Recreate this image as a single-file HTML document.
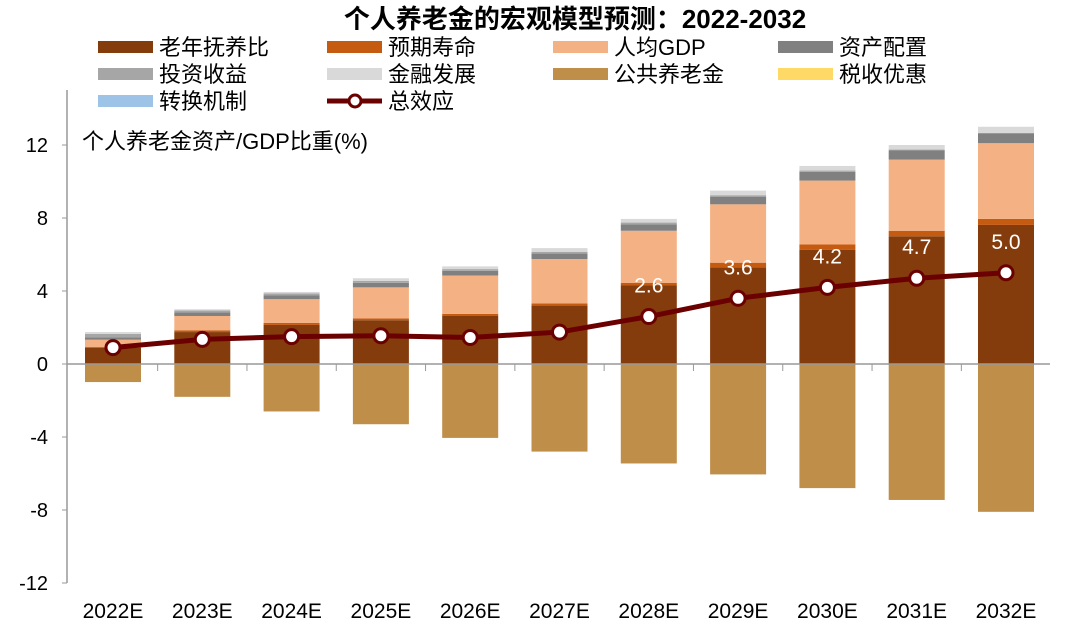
<!DOCTYPE html>
<html><head><meta charset="utf-8"><style>
body{margin:0;background:#fff;}
svg{display:block;font-family:"Liberation Sans","Noto Sans CJK SC",sans-serif;}
</style></head><body>
<svg id="c" width="1080" height="636"></svg>
<script>
const categories=["2022E","2023E","2024E","2025E","2026E","2027E","2028E","2029E","2030E","2031E","2032E"];
const oldAge=[0.88,1.75,2.14,2.4,2.65,3.2,4.3,5.3,6.25,7.0,7.62];
const lifeExp=[0.05,0.1,0.11,0.1,0.1,0.12,0.15,0.25,0.3,0.3,0.33];
const gdpPc=[0.4,0.78,1.3,1.7,2.1,2.43,2.85,3.2,3.5,3.9,4.15];
const assetAlloc=[0.12,0.2,0.22,0.25,0.25,0.3,0.35,0.42,0.48,0.5,0.55];
const invReturn=[0.2,0.1,0.1,0.1,0.1,0.1,0.1,0.08,0.07,0.05,0.0];
const finDev=[0.1,0.07,0.08,0.15,0.15,0.2,0.2,0.25,0.25,0.25,0.35];
const publicPension=[-0.99,-1.8,-2.6,-3.3,-4.05,-4.8,-5.45,-6.05,-6.8,-7.45,-8.1];
const total=[0.9,1.35,1.5,1.55,1.45,1.75,2.6,3.6,4.2,4.7,5.0];
const yTicks=[12,8,4,0,-4,-8,-12];
const NS="http://www.w3.org/2000/svg";
const svg=document.getElementById('c');
function el(t,a,p){const e=document.createElementNS(NS,t);for(const k in a)e.setAttribute(k,a[k]);(p||svg).appendChild(e);return e;}
const y=v=>364-v*18.25;
const x=i=>113+i*89.3;
const bw=56;
let t=el('text',{x:575,y:28,'text-anchor':'middle','font-size':26,'font-weight':'bold',fill:'#000'});t.textContent="个人养老金的宏观模型预测：2022-2032";

const legend=[["老年抚养比","#843C0C"],["预期寿命","#C55A11"],["人均GDP","#F4B183"],["资产配置","#808080"],["投资收益","#A6A6A6"],["金融发展","#D9D9D9"],["公共养老金","#BF8F4A"],["税收优惠","#FFD966"],["转换机制","#9DC3E6"],["总效应",null]];
const lx=[98,327,553,778],ly=[47,74,101];
legend.forEach((d,i)=>{
  const g=el('g',{});
  
  
  const X=lx[i%4],Y=ly[Math.floor(i/4)];
  if(d[1]){el('rect',{x:X,y:Y-6,width:55,height:12,fill:d[1]},g);}
  else{el('line',{x1:X,y1:Y,x2:X+55,y2:Y,stroke:'#6B0000','stroke-width':5},g);el('circle',{cx:X+28,cy:Y,r:6,fill:'#fff',stroke:'#6B0000','stroke-width':3},g);}
  const tx=el('text',{x:X+61,y:Y+8,'font-size':22,fill:'#000'},g);tx.textContent=d[0];
});
t=el('text',{x:82,y:149,'font-size':22,fill:'#000'});t.textContent="个人养老金资产/GDP比重(%)";

let a=el('line',{x1:67,y1:90,x2:67,y2:583,stroke:'#999','stroke-width':1.5});

yTicks.forEach(v=>{
  el('line',{x1:62,y1:y(v),x2:67,y2:y(v),stroke:'#999'});
  const tt=el('text',{x:48,y:y(v)+7,'text-anchor':'end','font-size':20,fill:'#000'});tt.textContent=v;
  
});
const series=[[oldAge,"#843C0C"],[lifeExp,"#C55A11"],[gdpPc,"#F4B183"],[assetAlloc,"#808080"],[invReturn,"#A6A6A6"],[finDev,"#D9D9D9"]];
categories.forEach((c,i)=>{
  let base=0;
  series.forEach(s=>{
    const v=s[0][i];if(v<=0)return;
    const r=el('rect',{x:x(i)-bw/2,y:y(base+v),width:bw,height:v*18.25,fill:s[1]});
    
    base+=v;
  });
  const n=publicPension[i];
  const r=el('rect',{x:x(i)-bw/2,y:y(0),width:bw,height:-n*18.25,fill:'#BF8F4A'});
  
  const xl=el('text',{x:x(i),y:618,'text-anchor':'middle','font-size':21,fill:'#000'});xl.textContent=c;
  
});
a=el('line',{x1:67,y1:364,x2:1050,y2:364,stroke:'#999','stroke-width':1.5});

for(let i=0;i<categories.length-1;i++)el('line',{x1:x(i)+44.65,y1:364,x2:x(i)+44.65,y2:371,stroke:'#999'});
const pl=el('polyline',{points:total.map((v,i)=>x(i)+','+y(v)).join(' '),fill:'none',stroke:'#6B0000','stroke-width':5});

total.forEach((v,i)=>{
  const p=el('circle',{cx:x(i),cy:y(v),r:7,fill:'#fff',stroke:'#6B0000','stroke-width':3});
  
  if(i>=6){const l=el('text',{x:x(i),y:y(v)-24,'text-anchor':'middle','font-size':21,fill:'#fff'});l.textContent=v.toFixed(1);
  }
});
</script>
</body></html>
